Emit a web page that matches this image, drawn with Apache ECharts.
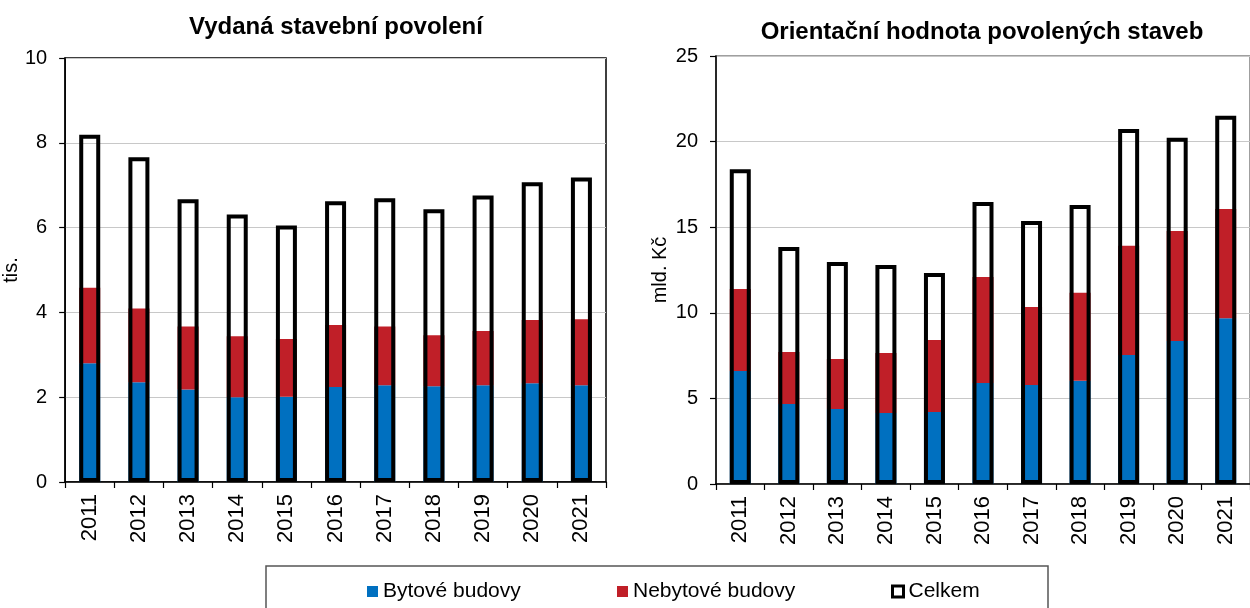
<!DOCTYPE html>
<html><head><meta charset="utf-8">
<script src="https://cdn.jsdelivr.net/npm/echarts@6/dist/echarts.min.js"></script>
<style>html,body{margin:0;padding:0;background:#fff}#c{width:1250px;height:608px}</style>
</head><body><div id="c"></div>
<script>
const years = ['2011','2012','2013','2014','2015','2016','2017','2018','2019','2020','2021'];
// Left chart: Vydaná stavební povolení (tis.)
const permitsResidential = [2.80, 2.35, 2.18, 2.00, 2.01, 2.24, 2.28, 2.26, 2.28, 2.33, 2.28];
const permitsNonResidential = [1.78, 1.74, 1.49, 1.44, 1.36, 1.46, 1.39, 1.20, 1.28, 1.49, 1.56];
const permitsTotal = [8.19, 7.66, 6.67, 6.31, 6.05, 6.62, 6.69, 6.43, 6.76, 7.07, 7.18];
// Right chart: Orientační hodnota povolených staveb (mld. Kč)
const valueResidential = [6.60, 4.67, 4.38, 4.15, 4.21, 5.90, 5.78, 6.03, 7.54, 8.35, 9.68];
const valueNonResidential = [4.79, 3.04, 2.92, 3.50, 4.20, 6.19, 4.56, 5.14, 6.38, 6.43, 6.38];
const valueTotal = [18.39, 13.84, 12.96, 12.79, 12.32, 16.47, 15.36, 16.29, 20.73, 20.22, 21.51];
const leftTicksMax = 10, leftInterval = 2;
const rightTicksMax = 25, rightInterval = 5;

const FONT = '"Liberation Sans", Arial, sans-serif';
const BLUE = '#0070C0', RED = '#C01F28';
const chart = echarts.init(document.getElementById('c'), null, {renderer: 'canvas'});

function xAxis(gi) {
  return {
    type: 'category', gridIndex: gi, data: years, boundaryGap: true,
    axisLine: {lineStyle: {color: '#000', width: 1.5}},
    axisTick: {show: true, inside: false, length: 6, alignWithLabel: false, lineStyle: {color: '#000', width: 1.2}},
    axisLabel: {rotate: 90, margin: 12, fontSize: 22, color: '#000', fontFamily: FONT, interval: 0}
  };
}
function yAxis(gi, max, interval, name, gap) {
  return {
    type: 'value', gridIndex: gi, min: 0, max: max, interval: interval,
    name: name, nameLocation: 'middle', nameRotate: 90, nameGap: gap,
    nameTextStyle: {fontSize: 20, color: '#000', fontFamily: FONT},
    axisLine: {show: true, lineStyle: {color: '#000', width: 1.5}},
    axisTick: {show: true, length: 6, lineStyle: {color: '#000', width: 1.2}},
    axisLabel: {margin: 18, fontSize: 20, color: '#000', fontFamily: FONT},
    splitLine: {show: true, lineStyle: {color: '#c8c8c8', width: 1.2}}
  };
}
function barSeries(gi, name, data, color) {
  return {
    type: 'bar', name: name, xAxisIndex: gi, yAxisIndex: gi, data: data, stack: 's' + gi,
    barWidth: 21, itemStyle: {color: color}, z: 2, silent: true
  };
}
function totalSeries(gi, data) {
  return {
    type: 'bar', name: 'Celkem', xAxisIndex: gi, yAxisIndex: gi, data: data,
    barWidth: 21, barGap: '-100%', z: 3, silent: true,
    itemStyle: {color: 'rgba(0,0,0,0)', borderColor: '#000', borderWidth: 4}
  };
}
function legend(left, item) {
  return {
    left: left, top: 576, itemWidth: 11, itemHeight: 11, itemGap: 0, selectedMode: false,
    textStyle: {fontSize: 21, color: '#000', fontFamily: FONT},
    data: [item]
  };
}

chart.setOption({
  animation: false,
  backgroundColor: '#fff',
  title: [
    {text: 'Vydaná stavební povolení', left: 331, top: 10, textAlign: 'center',
     textStyle: {fontSize: 24, fontWeight: 'bold', color: '#000', fontFamily: FONT}},
    {text: 'Orientační hodnota povolených staveb', left: 977, top: 15, textAlign: 'center',
     textStyle: {fontSize: 24, fontWeight: 'bold', color: '#000', fontFamily: FONT}}
  ],
  grid: [
    {left: 65, top: 58, width: 541, height: 424, show: true, borderColor: '#000', borderWidth: 1.5, backgroundColor: 'transparent'},
    {left: 716, top: 56, width: 540, height: 428, show: true, borderColor: '#808080', borderWidth: 1.5, backgroundColor: 'transparent'}
  ],
  xAxis: [xAxis(0), xAxis(1)],
  yAxis: [yAxis(0, leftTicksMax, leftInterval, 'tis.', 36), yAxis(1, rightTicksMax, rightInterval, 'mld. Kč', 46)],
  legend: [
    legend(362, {name: 'Bytové budovy', icon: 'rect', itemStyle: {color: BLUE}}),
    legend(612, {name: 'Nebytové budovy', icon: 'rect', itemStyle: {color: RED}}),
    legend(886, {name: 'Celkem', icon: 'rect', itemStyle: {color: '#fff', borderColor: '#000', borderWidth: 3}})
  ],
  graphic: [{
    type: 'rect', shape: {x: 266, y: 566, width: 782, height: 60},
    style: {fill: 'none', stroke: '#555', lineWidth: 1.5}, silent: true
  }],
  series: [
    barSeries(0, 'Bytové budovy', permitsResidential, BLUE),
    barSeries(0, 'Nebytové budovy', permitsNonResidential, RED),
    totalSeries(0, permitsTotal),
    barSeries(1, 'Bytové budovy', valueResidential, BLUE),
    barSeries(1, 'Nebytové budovy', valueNonResidential, RED),
    totalSeries(1, valueTotal)
  ]
});
</script></body></html>
